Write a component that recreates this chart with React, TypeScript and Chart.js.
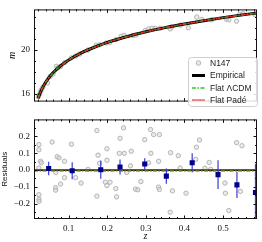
import React, { useEffect, useRef } from 'react';
import { Chart, registerables } from 'chart.js';
Chart.register(...registerables);

// ---------- data ----------
const X_MIN = 0.01;
const X_MAX = 0.588;
const TOP_Y_MIN = 15.3;
const TOP_Y_MAX = 23.7;
const RES_Y_MIN = -0.29;
const RES_Y_MAX = 0.3;

// model curves (Empirical, Flat ΛCDM, Flat Padé overlap)
const modelZ = [0.0205, 0.025, 0.03, 0.04, 0.05, 0.06, 0.08, 0.10, 0.13, 0.16, 0.20, 0.25, 0.30, 0.35, 0.40, 0.45, 0.50, 0.55, 0.588];
const modelEmpirical = [15.6, 16.01, 16.41, 17.05, 17.54, 17.95, 18.59, 19.09, 19.69, 20.16, 20.69, 21.21, 21.66, 22.04, 22.37, 22.67, 22.95, 23.2, 23.37];
const modelLCDM = [15.6, 16.01, 16.41, 17.05, 17.54, 17.95, 18.59, 19.09, 19.69, 20.16, 20.69, 21.21, 21.66, 22.04, 22.37, 22.67, 22.95, 23.2, 23.37];
const modelPade = [15.6, 16.01, 16.41, 17.05, 17.54, 17.95, 18.59, 19.09, 19.69, 20.16, 20.69, 21.21, 21.66, 22.04, 22.37, 22.67, 22.95, 23.2, 23.37];

// N147 data points (upper panel)
const dataZ = [0.0215, 0.024, 0.027, 0.029, 0.033, 0.045, 0.052, 0.0595, 0.068, 0.072, 0.079, 0.09, 0.107, 0.118, 0.128, 0.15, 0.171, 0.18, 0.197, 0.206, 0.223, 0.236, 0.244, 0.266, 0.274, 0.298, 0.307, 0.316, 0.324, 0.337, 0.363, 0.367, 0.39, 0.41, 0.432, 0.445, 0.47, 0.509, 0.515, 0.535, 0.543, 0.552, 0.582];
const dataM = [15.75, 15.95, 16.2, 16.38, 16.6, 17.0, 17.6, 17.82, 18.52, 18.38, 18.5, 18.85, 19.28, 19.45, 19.62, 20.0, 20.44, 20.48, 20.64, 20.69, 20.95, 21.25, 21.33, 21.33, 21.36, 21.77, 21.92, 21.98, 21.98, 21.98, 21.92, 22.1, 22.28, 22.02, 23.0, 22.79, 22.75, 22.79, 22.75, 22.62, 23.25, 23.31, 23.25];

// residuals (lower panel)
const resZ = [0.0227, 0.0227, 0.027, 0.029, 0.0227, 0.0227, 0.023, 0.023, 0.057, 0.070, 0.075, 0.0665, 0.066, 0.066, 0.079, 0.089, 0.089, 0.107, 0.118, 0.132, 0.150, 0.173, 0.176, 0.180, 0.173, 0.199, 0.199, 0.195, 0.199, 0.207, 0.222, 0.224, 0.233, 0.231, 0.244, 0.25, 0.242, 0.262, 0.26, 0.297, 0.312, 0.32, 0.335, 0.313, 0.307, 0.333, 0.287, 0.273, 0.279, 0.333, 0.335, 0.364, 0.369, 0.363, 0.384, 0.389, 0.404, 0.431, 0.439, 0.429, 0.453, 0.464, 0.468, 0.505, 0.506, 0.515, 0.535, 0.549, 0.545];
const resV = [0.151, 0.12, 0.052, 0.043, 0.012, -0.146, -0.173, -0.185, 0.166, 0.079, 0.072, -0.014, -0.104, -0.119, -0.083, 0.052, -0.045, 0.153, -0.045, -0.077, 0.004, 0.234, 0.088, 0.04, -0.155, 0.126, 0.058, -0.072, -0.092, -0.072, -0.11, -0.159, 0.188, 0.099, 0.099, -0.014, 0.25, 0.112, 0.025, 0.18, 0.24, 0.21, 0.21, 0.099, 0.043, 0.052, -0.068, -0.113, -0.117, -0.101, -0.115, 0.103, -0.123, -0.25, 0.085, 0.012, -0.137, 0.135, 0.178, 0.063, 0.011, 0.045, 0.004, -0.077, -0.137, -0.24, 0.162, 0.144, -0.126];

// binned residuals
const binZ = [0.048, 0.109, 0.183, 0.233, 0.297, 0.353, 0.42, 0.487, 0.536, 0.584];
const binV = [0.009, -0.004, 0.002, 0.018, 0.036, -0.036, 0.043, -0.027, -0.088, -0.133];
const binErr = [0.04, 0.05, 0.054, 0.045, 0.034, 0.045, 0.056, 0.085, 0.078, 0.17];

// model residual lines
const resLineZ = [X_MIN, X_MAX];
const resEmpirical = [0, 0];
const resLCDM = [-0.005, -0.005];
const resPade = [0.002, 0.002];

// ticks
const xMajorTicks = [0.1, 0.2, 0.3, 0.4, 0.5];
const xMinorTicks = [0.02, 0.04, 0.06, 0.08, 0.12, 0.14, 0.16, 0.18, 0.22, 0.24, 0.26, 0.28, 0.32, 0.34, 0.36, 0.38, 0.42, 0.44, 0.46, 0.48, 0.52, 0.54, 0.56, 0.58];
const topYMajorTicks = [16, 20];
const topYMinorTicks = [17, 18, 19, 21, 22, 23];
const resYMajorTicks = [-0.2, -0.1, 0, 0.1, 0.2];
const resYMinorTicks = [-0.25, -0.15, -0.05, 0.05, 0.15, 0.25];

// ---------- styles ----------
const TICK_FONT = { family: '"Liberation Serif", serif', size: 9 };
const GRAY_FILL = 'rgba(215,215,215,0.5)';
const GRAY_EDGE = '#b4b4b4';
const RED = '#ee1c1c';
const GREEN = '#2fc42f';

const xy = (xs: number[], ys: (number | null)[]) => xs.map((x, i) => ({ x, y: ys[i] }));

function framePlugin(xMaj: number[], xMin: number[], yMaj: number[], yMin: number[]) {
  return {
    id: 'frame',
    afterDraw(chart: any) {
      const { ctx, chartArea: a, scales } = chart;
      const xs = scales.x, ys = scales.y;
      ctx.save();
      ctx.strokeStyle = '#111';
      ctx.lineWidth = 1;
      ctx.beginPath();
      const drawX = (vals: number[], len: number) => {
        vals.forEach((v) => {
          const p = Math.round(xs.getPixelForValue(v)) + 0.5;
          ctx.moveTo(p, a.bottom); ctx.lineTo(p, a.bottom - len);
          ctx.moveTo(p, a.top); ctx.lineTo(p, a.top + len);
        });
      };
      const drawY = (vals: number[], len: number) => {
        vals.forEach((v) => {
          const p = Math.round(ys.getPixelForValue(v)) + 0.5;
          ctx.moveTo(a.left, p); ctx.lineTo(a.left + len, p);
          ctx.moveTo(a.right, p); ctx.lineTo(a.right - len, p);
        });
      };
      drawX(xMaj, 3.5); drawX(xMin, 2);
      drawY(yMaj, 3.5); drawY(yMin, 2);
      ctx.stroke();
      ctx.strokeRect(a.left + 0.5, a.top + 0.5, a.right - a.left - 1, a.bottom - a.top - 1);
      ctx.restore();
    },
  };
}

const legendPlugin = {
  id: 'legendBox',
  afterDraw(chart: any) {
    const ctx = chart.ctx;
    ctx.save();
    const bx = 188.5, by = 57.5, bw = 69, bh = 49, r = 3;
    ctx.beginPath();
    ctx.moveTo(bx + r, by);
    ctx.arcTo(bx + bw, by, bx + bw, by + bh, r);
    ctx.arcTo(bx + bw, by + bh, bx, by + bh, r);
    ctx.arcTo(bx, by + bh, bx, by, r);
    ctx.arcTo(bx, by, bx + bw, by, r);
    ctx.closePath();
    ctx.fillStyle = 'rgba(255,255,255,0.85)';
    ctx.fill();
    ctx.strokeStyle = '#cfcfcf';
    ctx.lineWidth = 1;
    ctx.stroke();

    const x0 = 192, x1 = 205, tx = 210;
    const rows = [63, 75.5, 88, 100];
    // N147 marker
    ctx.beginPath();
    ctx.arc((x0 + x1) / 2, rows[0], 2.3, 0, Math.PI * 2);
    ctx.fillStyle = GRAY_FILL; ctx.fill();
    ctx.strokeStyle = GRAY_EDGE; ctx.stroke();
    // Empirical
    ctx.beginPath(); ctx.moveTo(x0, rows[1]); ctx.lineTo(x1, rows[1]);
    ctx.strokeStyle = '#000'; ctx.lineWidth = 3; ctx.stroke();
    // ΛCDM
    ctx.beginPath(); ctx.setLineDash([4, 1.5, 1.5, 1.5]); ctx.moveTo(x0, rows[2]); ctx.lineTo(x1, rows[2]);
    ctx.strokeStyle = GREEN; ctx.lineWidth = 1.5; ctx.stroke();
    ctx.setLineDash([]);
    // Padé
    ctx.beginPath(); ctx.moveTo(x0, rows[3]); ctx.lineTo(x1, rows[3]);
    ctx.strokeStyle = RED; ctx.lineWidth = 1; ctx.stroke();

    ctx.fillStyle = '#222';
    ctx.font = '8.5px "Liberation Sans", sans-serif';
    ctx.textBaseline = 'middle';
    const labels = ['N147', 'Empirical', 'Flat ΛCDM', 'Flat Padé'];
    labels.forEach((t, i) => ctx.fillText(t, tx, rows[i] + 0.5));
    ctx.restore();
  },
};

export default function App() {
  const topRef = useRef<HTMLCanvasElement>(null);
  const botRef = useRef<HTMLCanvasElement>(null);

  useEffect(() => {
    const top = new Chart(topRef.current as HTMLCanvasElement, {
      type: 'scatter',
      data: {
        datasets: [
          { label: 'Flat Padé', data: xy(modelZ, modelPade), showLine: true, borderColor: RED, borderWidth: 1, pointRadius: 0, cubicInterpolationMode: 'monotone' } as any,
          { label: 'Flat ΛCDM', data: xy(modelZ, modelLCDM), showLine: true, borderColor: GREEN, borderWidth: 1.5, borderDash: [4, 1.5, 1.5, 1.5], pointRadius: 0, cubicInterpolationMode: 'monotone' } as any,
          { label: 'Empirical', data: xy(modelZ, modelEmpirical), showLine: true, borderColor: '#000', borderWidth: 3, pointRadius: 0, cubicInterpolationMode: 'monotone' } as any,
          { label: 'N147', data: xy(dataZ, dataM), pointRadius: 2.2, backgroundColor: GRAY_FILL, borderColor: GRAY_EDGE, borderWidth: 1 } as any,
        ],
      },
      options: {
        animation: false,
        responsive: false,
        layout: { padding: { top: 1, right: 4, bottom: 1, left: 0 } },
        plugins: { legend: { display: false }, tooltip: { enabled: false } },
        scales: {
          x: { type: 'linear', min: X_MIN, max: X_MAX, display: false },
          y: {
            type: 'linear', min: TOP_Y_MIN, max: TOP_Y_MAX,
            grid: { display: false, drawTicks: false },
            border: { display: false },
            afterBuildTicks: (s: any) => { s.ticks = topYMajorTicks.map((v) => ({ value: v })); },
            afterFit: (s: any) => { s.width = 34; },
            ticks: { font: TICK_FONT, color: '#111', padding: 4, callback: (v: any) => String(v) },
            title: { display: true, text: 'm', font: { family: '"Liberation Serif", serif', size: 10, style: 'italic' }, color: '#111', padding: { top: 6, bottom: 0 } },
          },
        },
      },
      plugins: [framePlugin(xMajorTicks, xMinorTicks, topYMajorTicks, topYMinorTicks), legendPlugin],
    });

    const errData: any[] = [];
    binZ.forEach((z, i) => {
      errData.push({ x: z, y: binV[i] - binErr[i] });
      errData.push({ x: z, y: binV[i] + binErr[i] });
      errData.push({ x: z, y: null });
    });

    const bot = new Chart(botRef.current as HTMLCanvasElement, {
      type: 'scatter',
      data: {
        datasets: [
          { label: 'binned', data: xy(binZ, binV), pointStyle: 'rect', pointRadius: 3.6, backgroundColor: '#00008b', borderColor: '#00008b', borderWidth: 0 } as any,
          { label: 'err', data: errData, showLine: true, spanGaps: false, borderColor: '#3b3bd6', borderWidth: 1.2, pointRadius: 0 } as any,
          { label: 'Flat Padé', data: xy(resLineZ, resPade), showLine: true, borderColor: RED, borderWidth: 1.2, pointRadius: 0 } as any,
          { label: 'Flat ΛCDM', data: xy(resLineZ, resLCDM), showLine: true, borderColor: GREEN, borderWidth: 1.5, borderDash: [4, 1.5, 1.5, 1.5], pointRadius: 0 } as any,
          { label: 'Empirical', data: xy(resLineZ, resEmpirical), showLine: true, borderColor: '#000', borderWidth: 2, pointRadius: 0 } as any,
          { label: 'N147', data: xy(resZ, resV), pointRadius: 2.2, backgroundColor: GRAY_FILL, borderColor: GRAY_EDGE, borderWidth: 1 } as any,
        ],
      },
      options: {
        animation: false,
        responsive: false,
        layout: { padding: { top: 0, right: 4, bottom: 0, left: 0 } },
        plugins: { legend: { display: false }, tooltip: { enabled: false } },
        scales: {
          x: {
            type: 'linear', min: X_MIN, max: X_MAX,
            grid: { display: false, drawTicks: false },
            border: { display: false },
            afterBuildTicks: (s: any) => { s.ticks = xMajorTicks.map((v) => ({ value: v })); },
            afterFit: (s: any) => { s.height = 23; },
            ticks: { font: TICK_FONT, color: '#111', padding: 4, maxRotation: 0, callback: (v: any) => Number(v).toFixed(1) },
            title: { display: true, text: 'z', font: { family: '"Liberation Serif", serif', size: 10, style: 'italic' }, color: '#111', padding: { top: 0, bottom: 0 } },
          },
          y: {
            type: 'linear', min: RES_Y_MIN, max: RES_Y_MAX,
            grid: { display: false, drawTicks: false },
            border: { display: false },
            afterBuildTicks: (s: any) => { s.ticks = resYMajorTicks.map((v) => ({ value: v })); },
            afterFit: (s: any) => { s.width = 34; },
            ticks: { font: TICK_FONT, color: '#111', padding: 4, callback: (v: any) => (Number(v) < 0 ? '\u2212' : '') + Math.abs(Number(v)).toFixed(1) },
            title: { display: true, text: 'Residuals', font: { family: '"Liberation Sans", sans-serif', size: 8 }, color: '#111', padding: { top: 0, bottom: 0 } },
          },
        },
      },
      plugins: [framePlugin(xMajorTicks, xMinorTicks, resYMajorTicks, resYMinorTicks)],
    });

    return () => { top.destroy(); bot.destroy(); };
  }, []);

  return (
    <div style={{ position: 'absolute', left: 0, top: 0, width: 262, height: 242, background: '#fff' }}>
      <canvas ref={topRef} width={262} height={111} style={{ position: 'absolute', left: 0, top: 0, width: 262, height: 111 }} />
      <canvas ref={botRef} width={262} height={132} style={{ position: 'absolute', left: 0, top: 110, width: 262, height: 132 }} />
    </div>
  );
}
